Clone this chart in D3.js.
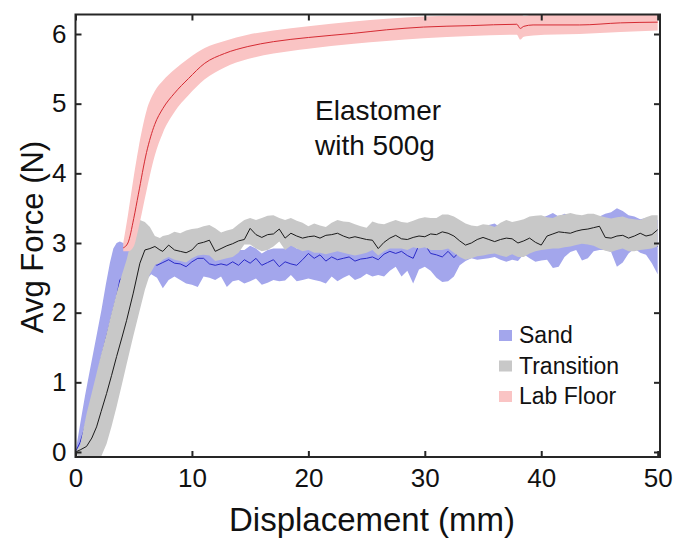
<!DOCTYPE html>
<html>
<head>
<meta charset="utf-8">
<script src="https://cdn.jsdelivr.net/npm/d3@7"></script>
<style>
  body { margin: 0; background: #fff; }
  text { font-family: "Liberation Sans", Arial, sans-serif; fill: #111; }
</style>
</head>
<body>
<script>
const width = 674;
const height = 541;
const plot = {left: 75.5, right: 660, top: 14.5, bottom: 457};

const xTicks = [0, 10, 20, 30, 40, 50];
const yTicks = [0, 1, 2, 3, 4, 5, 6];
const legendLabels = ['Sand', 'Transition', 'Lab Floor'];

// Sand (mean +/- band)
const sandX = [0, 0.4, 0.81, 1.15, 1.52, 1.9, 2.24, 2.6, 2.96, 3.25, 3.53, 3.81, 4.1, 4.5, 5.0, 5.5, 6.0, 6.5,
  7.0, 7.5, 8.0, 8.5, 9.0, 9.5, 10.0, 10.5, 11.0, 11.5, 12.0, 12.5, 13.0, 13.5, 14.0, 14.5, 15.0, 15.5, 16.0, 16.5,
  17.0, 17.5, 18.0, 18.5, 19.0, 19.5, 20.0, 20.5, 21.0, 21.5, 22.0, 22.5, 23.0, 23.5, 24.0, 24.5, 25.0, 25.5, 26.0,
  26.5, 27.0, 27.5, 28.0, 28.5, 29.0, 29.5, 30.0, 30.5, 31.0, 31.5, 32.0, 32.5, 33.0, 33.5, 34.0, 34.5, 35.0, 35.5,
  36.0, 36.5, 37.0, 37.5, 38.0, 38.5, 39.0, 39.5, 40.0, 40.5, 41.0, 41.5, 42.0, 42.5, 43.0, 43.5, 44.0, 44.5, 45.0,
  45.5, 46.0, 46.5, 47.0, 47.5, 48.0, 48.5, 49.0, 49.5, 50.0];
const sandMean = [0, 0.14, 0.36, 0.6, 0.84, 1.1, 1.37, 1.62, 1.85, 2.05, 2.23, 2.47, 2.52, 2.6, 2.65, 2.68, 2.7, 2.72,
  2.68, 2.72, 2.76, 2.71, 2.7, 2.66, 2.73, 2.78, 2.78, 2.7, 2.68, 2.7, 2.68, 2.73, 2.68, 2.76, 2.71, 2.78, 2.68, 2.72,
  2.76, 2.66, 2.73, 2.7, 2.68, 2.76, 2.85, 2.78, 2.83, 2.74, 2.8, 2.76, 2.78, 2.8, 2.74, 2.77, 2.78, 2.8, 2.76,
  2.84, 2.88, 2.85, 2.88, 2.82, 2.78, 2.97, 2.98, 2.85, 2.83, 2.8, 2.88, 2.79, 2.88, 2.92, 2.95, 2.95, 2.97, 2.98,
  3.0, 2.99, 3.0, 2.98, 3.0, 3.02, 3.0, 3.02, 3.0, 2.98, 2.99, 3.02, 3.04, 3.05, 3.06, 3.05, 3.07, 3.09, 3.07,
  3.06, 3.05, 3.02, 3.03, 3.04, 3.06, 3.07, 3.05, 3.0, 2.95];
const sandLo = [0, 0.0, 0.08, 0.28, 0.46, 0.67, 0.94, 1.12, 1.2, 1.32, 1.49, 1.9, 2.0, 2.1, 2.25, 2.35, 2.45, 2.55,
  2.5, 2.35, 2.47, 2.52, 2.47, 2.42, 2.4, 2.37, 2.52, 2.5, 2.47, 2.52, 2.37, 2.45, 2.47, 2.42, 2.45, 2.49, 2.4, 2.43,
  2.47, 2.45, 2.46, 2.54, 2.45, 2.47, 2.49, 2.47, 2.45, 2.42, 2.52, 2.45, 2.5, 2.54, 2.47, 2.5, 2.56, 2.52, 2.54,
  2.52, 2.6, 2.66, 2.52, 2.6, 2.42, 2.62, 2.66, 2.6, 2.5, 2.44, 2.45, 2.52, 2.68, 2.74, 2.78, 2.76, 2.77, 2.78,
  2.8, 2.76, 2.73, 2.76, 2.74, 2.84, 2.78, 2.73, 2.75, 2.76, 2.64, 2.66, 2.8, 2.87, 2.9, 2.75, 2.78, 2.88, 2.9,
  2.9, 2.87, 2.66, 2.72, 2.85, 2.92, 2.86, 2.83, 2.71, 2.55];
const sandHi = [0, 0.4, 0.8, 1.1, 1.42, 1.75, 2.05, 2.4, 2.72, 2.92, 3.0, 3.02, 3.0, 2.95, 2.95, 2.92, 2.9, 2.88,
  2.88, 2.9, 2.9, 2.92, 2.9, 2.88, 2.92, 2.95, 2.95, 2.92, 2.88, 2.88, 2.9, 2.92, 2.9, 2.9, 2.96, 2.92, 2.85, 2.9,
  2.92, 2.92, 2.92, 2.98, 2.92, 2.93, 2.98, 2.96, 2.98, 2.95, 2.98, 2.97, 2.95, 2.97, 2.95, 2.96, 2.98, 3.0, 2.98,
  3.02, 3.04, 3.04, 3.05, 3.04, 3.04, 3.08, 3.1, 3.06, 3.05, 3.06, 3.08, 3.05, 3.1, 3.12, 3.18, 3.16, 3.2, 3.26,
  3.28, 3.22, 3.25, 3.24, 3.28, 3.3, 3.32, 3.38, 3.36, 3.39, 3.43, 3.38, 3.42, 3.4, 3.35, 3.36, 3.38, 3.4, 3.38,
  3.42, 3.44, 3.5, 3.46, 3.4, 3.38, 3.34, 3.36, 3.35, 3.33];

// Transition (mean +/- band)
const transX = [0, 0.4, 0.95, 1.4, 1.81, 2.2, 2.67, 3.1, 3.53, 4.0, 4.39, 4.96, 5.53, 5.96, 6.39, 6.82, 7.25,
  7.5, 8.0, 8.5, 9.0, 9.5, 10.0, 10.5, 11.0, 11.5, 12.0, 12.5, 13.0, 13.5, 14.0, 14.5, 15.0, 15.5, 16.0, 16.5,
  17.0, 17.5, 18.0, 18.5, 19.0, 19.5, 20.0, 20.5, 21.0, 21.5, 22.0, 22.5, 23.0, 23.5, 24.0, 24.5, 25.0, 25.5, 26.0,
  26.5, 27.0, 27.5, 28.0, 28.5, 29.0, 29.5, 30.0, 30.5, 31.0, 31.5, 32.0, 32.5, 33.0, 33.5, 34.0, 34.5, 35.0, 35.5,
  36.0, 36.5, 37.0, 37.5, 38.0, 38.5, 39.0, 39.5, 40.0, 40.5, 41.0, 41.5, 42.0, 42.5, 43.0, 43.5, 44.0, 44.5, 45.0,
  45.5, 46.0, 46.5, 47.0, 47.5, 48.0, 48.5, 49.0, 49.5, 50.0];
const transMean = [0, 0.03, 0.08, 0.2, 0.36, 0.58, 0.84, 1.1, 1.37, 1.65, 1.89, 2.28, 2.71, 2.9, 2.92, 2.95, 2.9,
  2.88, 2.97, 2.9, 2.88, 2.86, 2.9, 2.99, 3.01, 3.04, 2.88, 2.92, 2.96, 2.99, 3.03, 3.05, 3.21, 3.12, 3.08, 3.12,
  3.13, 3.2, 3.07, 3.14, 3.1, 3.07, 3.09, 3.1, 3.07, 3.11, 3.12, 3.14, 3.1, 3.07, 3.09, 3.07, 3.05, 3.04, 2.92,
  3.01, 3.07, 3.11, 3.06, 3.05, 3.08, 3.1, 3.09, 3.13, 3.12, 3.16, 3.14, 3.1, 3.03, 2.97, 3.0, 3.05, 3.08, 3.05,
  3.02, 3.05, 3.07, 3.06, 3.0, 3.03, 3.07, 3.01, 2.97, 3.1, 3.13, 3.16, 3.15, 3.14, 3.17, 3.19, 3.2, 3.22, 3.24,
  3.08, 3.07, 3.1, 3.11, 3.07, 3.1, 3.14, 3.1, 3.12, 3.19];
const transLo = [0, -0.12, -0.15, -0.15, -0.12, -0.07, 0.12, 0.37, 0.65, 0.98, 1.26, 1.66, 2.04, 2.33, 2.55, 2.68, 2.72,
  2.76, 2.8, 2.76, 2.74, 2.72, 2.78, 2.82, 2.83, 2.82, 2.74, 2.76, 2.78, 2.8, 2.86, 2.98, 2.98, 2.92, 2.88, 2.9,
  2.95, 3.02, 2.9, 2.96, 2.92, 2.88, 2.9, 2.86, 2.86, 2.84, 2.86, 2.88, 2.86, 2.84, 2.82, 2.84, 2.86, 2.9, 2.82,
  2.88, 2.92, 2.92, 2.92, 2.9, 2.94, 2.92, 2.94, 2.9, 2.9, 2.9, 2.92, 2.86, 2.8, 2.76, 2.78, 2.81, 2.82, 2.84,
  2.85, 2.82, 2.8, 2.84, 2.8, 2.8, 2.85, 2.88, 2.9, 2.91, 2.92, 2.92, 2.94, 2.95, 2.97, 2.99, 2.98, 2.96, 2.92,
  2.89, 2.87, 2.9, 2.92, 2.88, 2.88, 2.9, 2.91, 2.92, 2.95];
const transHi = [0, 0.1, 0.55, 0.85, 1.13, 1.4, 1.7, 2.0, 2.28, 2.55, 2.76, 3.15, 3.33, 3.3, 3.23, 3.1, 3.07,
  3.1, 3.12, 3.16, 3.14, 3.18, 3.2, 3.21, 3.24, 3.26, 3.21, 3.15, 3.18, 3.2, 3.27, 3.33, 3.36, 3.33, 3.36, 3.39,
  3.4, 3.36, 3.33, 3.36, 3.32, 3.29, 3.24, 3.28, 3.25, 3.23, 3.29, 3.33, 3.31, 3.3, 3.27, 3.24, 3.22, 3.31, 3.28,
  3.27, 3.3, 3.33, 3.3, 3.29, 3.32, 3.35, 3.37, 3.36, 3.36, 3.41, 3.41, 3.38, 3.33, 3.28, 3.25, 3.24, 3.27, 3.26,
  3.23, 3.29, 3.33, 3.3, 3.32, 3.34, 3.38, 3.39, 3.4, 3.37, 3.36, 3.4, 3.41, 3.43, 3.41, 3.4, 3.42, 3.42, 3.39,
  3.37, 3.35, 3.37, 3.38, 3.35, 3.34, 3.33, 3.37, 3.4, 3.4];

// Lab Floor (mean +/- band)
const labX = [4.1, 4.5, 5.0, 5.4, 6.1, 6.8, 7.5, 8.5, 9.7, 11.1, 12.8, 14.8, 17.0, 20.0, 23.9, 26.7, 29.9, 33.9,
  37.9, 38.2, 38.5, 39.3, 43.3, 46.8, 50.0];
const labMean = [2.93, 3.0, 3.35, 3.7, 4.3, 4.7, 4.93, 5.15, 5.36, 5.58, 5.72, 5.82, 5.89, 5.95, 6.01, 6.06, 6.10,
  6.12, 6.14, 6.08, 6.11, 6.13, 6.13, 6.16, 6.17];
const labLo = [2.88, 2.88, 2.95, 3.2, 3.75, 4.25, 4.58, 4.88, 5.12, 5.35, 5.52, 5.64, 5.72, 5.79, 5.86, 5.9, 5.94,
  5.97, 5.99, 5.92, 5.96, 5.98, 6.0, 6.03, 6.05];
const labHi = [3.0, 3.4, 3.95, 4.35, 4.9, 5.18, 5.33, 5.49, 5.65, 5.8, 5.9, 5.99, 6.05, 6.11, 6.18, 6.22, 6.25,
  6.27, 6.29, 6.3, 6.26, 6.28, 6.29, 6.3, 6.3];

const series = [
  {name: legendLabels[0], xs: sandX, mean: sandMean, lo: sandLo, hi: sandHi, band: '#a3a6ec', line: '#2a2ac8', curve: d3.curveLinear},
  {name: legendLabels[1], xs: transX, mean: transMean, lo: transLo, hi: transHi, band: '#c8c8c8', line: '#1a1a1a', curve: d3.curveLinear},
  {name: legendLabels[2], xs: labX, mean: labMean, lo: labLo, hi: labHi, band: '#fac4c4', line: '#d42a32', curve: d3.curveMonotoneX}
];

const x = d3.scaleLinear()
  .domain([0, 50.2])
  .range([plot.left, plot.right]);

const y = d3.scaleLinear()
  .domain([-0.072, 6.28])
  .range([plot.bottom, plot.top]);

const svg = d3.select('body').append('svg')
  .attr('width', width)
  .attr('height', height);

svg.append('clipPath').attr('id', 'clip')
  .append('rect')
  .attr('x', plot.left).attr('y', plot.top)
  .attr('width', plot.right - plot.left).attr('height', plot.bottom - plot.top);

const g = svg.append('g').attr('clip-path', 'url(#clip)');

series.forEach(s => {
  const rows = s.xs.map((v, i) => ({x: v, v: s.mean[i], lo: s.lo[i], hi: s.hi[i]}));
  const area = d3.area().curve(s.curve)
    .x(d => x(d.x))
    .y0(d => y(d.lo))
    .y1(d => y(d.hi));
  const line = d3.line().curve(s.curve)
    .x(d => x(d.x))
    .y(d => y(d.v));
  g.append('path')
    .datum(rows)
    .attr('fill', s.band)
    .attr('d', area);
  g.append('path')
    .datum(rows)
    .attr('fill', 'none')
    .attr('stroke', s.line)
    .attr('stroke-width', 1)
    .attr('stroke-linejoin', 'round')
    .attr('d', line);
});

const tickLen = 6;

const xAxis = g => g
  .attr('transform', `translate(0,${plot.bottom})`)
  .call(d3.axisBottom(x).tickValues(xTicks).tickSizeInner(-tickLen).tickSizeOuter(0).tickPadding(12))
  .call(g => g.select('.domain').remove());

const xAxisTop = g => g
  .attr('transform', `translate(0,${plot.top})`)
  .call(d3.axisTop(x).tickValues(xTicks).tickSizeInner(-tickLen).tickSizeOuter(0).tickFormat(''))
  .call(g => g.select('.domain').remove());

const yAxis = g => g
  .attr('transform', `translate(${plot.left},0)`)
  .call(d3.axisLeft(y).tickValues(yTicks).tickFormat(d3.format('d')).tickSizeInner(-tickLen).tickSizeOuter(0).tickPadding(9))
  .call(g => g.select('.domain').remove());

const yAxisRight = g => g
  .attr('transform', `translate(${plot.right},0)`)
  .call(d3.axisRight(y).tickValues(yTicks).tickSizeInner(-tickLen).tickSizeOuter(0).tickFormat(''))
  .call(g => g.select('.domain').remove());

[xAxis, xAxisTop, yAxis, yAxisRight].forEach(a => {
  svg.append('g').call(a)
    .call(g => g.selectAll('line').attr('stroke', '#262626').attr('stroke-width', 2))
    .call(g => g.selectAll('text')
      .style('font-family', '"Liberation Sans", Arial, sans-serif')
      .style('font-size', '26px')
      .attr('fill', '#111'));
});

svg.append('rect')
  .attr('x', plot.left).attr('y', plot.top)
  .attr('width', plot.right - plot.left).attr('height', plot.bottom - plot.top)
  .attr('fill', 'none')
  .attr('stroke', '#262626')
  .attr('stroke-width', 2);

svg.append('text')
  .attr('x', 372)
  .attr('y', 531)
  .attr('text-anchor', 'middle')
  .style('font-size', '33px')
  .text('Displacement (mm)');

svg.append('text')
  .attr('transform', `translate(43,237) rotate(-90)`)
  .attr('text-anchor', 'middle')
  .style('font-size', '31px')
  .text('Avg Force (N)');

svg.append('text')
  .attr('x', 315).attr('y', 120)
  .style('font-size', '28px')
  .text('Elastomer');
svg.append('text')
  .attr('x', 315).attr('y', 155)
  .style('font-size', '28px')
  .text('with 500g');

const legend = svg.append('g').attr('transform', 'translate(499,330)');
series.forEach((s, i) => {
  const row = legend.append('g').attr('transform', `translate(0,${i * 30.5})`);
  row.append('rect')
    .attr('width', 13).attr('height', 11)
    .attr('fill', s.band);
  row.append('text')
    .attr('x', 20).attr('y', 13)
    .style('font-size', '23px')
    .text(s.name);
});
</script>
</body>
</html>
